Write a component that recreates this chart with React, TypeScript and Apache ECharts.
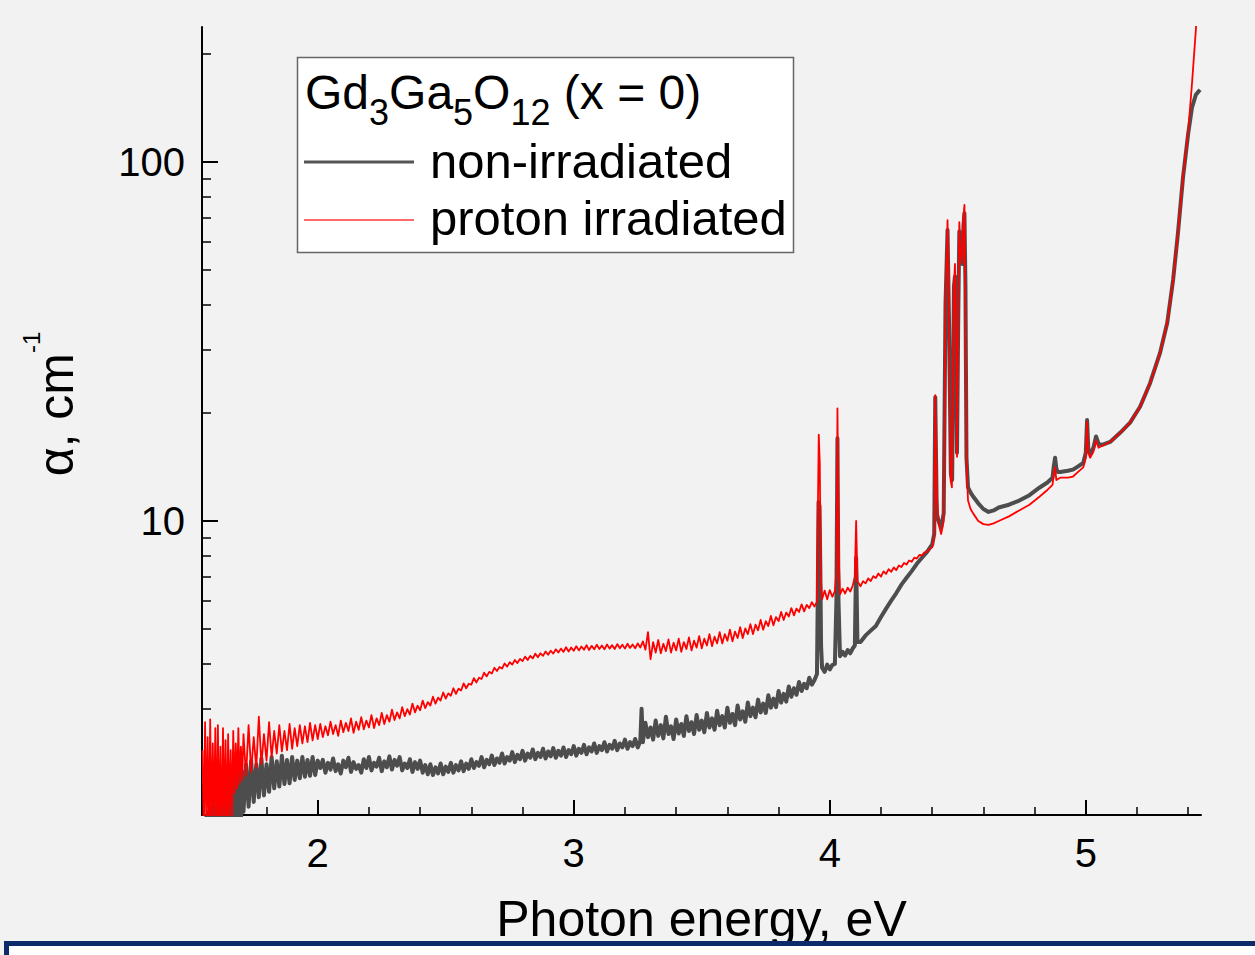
import React, { useEffect, useRef } from "react";
import * as echarts from "echarts";

const FONT = "'Liberation Sans', Arial, sans-serif";

const X_MIN = 1.548;
const X_MAX = 5.45;
const Y_MIN = 1.517;
const Y_MAX = 237.7;

const xTicksMajor = [2, 3, 4, 5];
const xTicksMinor = [1.6, 1.8, 2.2, 2.4, 2.6, 2.8, 3.2, 3.4, 3.6, 3.8, 4.2, 4.4, 4.6, 4.8, 5.2, 5.4];
const yTicksMajor = [10, 100];
const yTicksMinor = [2, 3, 4, 5, 6, 7, 8, 9, 20, 30, 40, 50, 60, 70, 80, 90, 200];

const xAxisTitle = "Photon energy, eV";
const seriesNames = ["non-irradiated", "proton irradiated"];

// non-irradiated (grey) – [photon energy eV, alpha cm^-1]
const grayLow: [number, number][] = [
  [1.550, 1.3], [1.555, 1.45], [1.560, 1.25], [1.565, 1.5], [1.570, 1.3], [1.575, 1.55], [1.580, 1.25], [1.585, 1.6],
  [1.590, 1.3], [1.595, 1.65], [1.600, 1.3], [1.605, 1.7], [1.610, 1.35], [1.615, 1.8], [1.620, 1.3], [1.625, 1.9],
  [1.630, 1.35], [1.635, 1.85], [1.640, 1.4], [1.645, 1.95], [1.650, 1.35], [1.655, 1.9], [1.660, 1.45], [1.665, 2.0],
  [1.670, 1.4], [1.675, 1.9], [1.680, 1.45], [1.685, 2.05], [1.690, 1.5], [1.695, 1.95], [1.700, 1.45], [1.705, 2.0],
  [1.710, 1.55], [1.720, 2.1], [1.730, 1.6], [1.740, 2.15], [1.750, 1.65], [1.760, 2.1], [1.770, 1.7], [1.780, 2.18],
  [1.790, 1.72], [1.800, 2.1], [1.810, 1.76], [1.820, 2.2], [1.830, 1.8], [1.840, 2.14], [1.850, 1.82], [1.860, 2.22],
  [1.870, 1.85], [1.880, 2.16], [1.890, 1.86], [1.900, 2.2], [1.910, 1.9], [1.920, 2.15], [1.930, 1.92], [1.940, 2.2],
  [1.950, 1.94], [1.960, 2.16], [1.970, 1.95], [1.980, 2.2], [1.990, 1.96], [2.000, 2.15],
];
const grayMid: [number, number][] = [
  [2.01, 2.05], [2.02, 2.16], [2.03, 1.99], [2.04, 2.12], [2.05, 2.03], [2.06, 2.18], [2.07, 2.01], [2.08, 2.1],
  [2.09, 1.98], [2.10, 2.15], [2.11, 2.06], [2.12, 2.19], [2.13, 2.0], [2.14, 2.13], [2.15, 2.04], [2.16, 2.09],
  [2.17, 1.99], [2.18, 2.17], [2.19, 2.05], [2.20, 2.2], [2.21, 2.02], [2.22, 2.12], [2.23, 2.07], [2.24, 2.19],
  [2.25, 2.01], [2.26, 2.14], [2.27, 2.06], [2.28, 2.21], [2.29, 2.03], [2.30, 2.16], [2.31, 2.08], [2.32, 2.2],
  [2.33, 2.02], [2.34, 2.11], [2.35, 2.05], [2.36, 2.17], [2.37, 2.0], [2.38, 2.13], [2.39, 2.04], [2.40, 2.15],
  [2.41, 1.99], [2.42, 2.09], [2.43, 1.97], [2.44, 2.1], [2.45, 1.96], [2.46, 2.06], [2.47, 1.98], [2.48, 2.11],
  [2.49, 1.97], [2.50, 2.07], [2.51, 2.0], [2.52, 2.12], [2.53, 1.99], [2.54, 2.09], [2.55, 2.02], [2.56, 2.14],
  [2.57, 2.01], [2.58, 2.11], [2.59, 2.04], [2.60, 2.17], [2.61, 2.05], [2.62, 2.13], [2.63, 2.08], [2.64, 2.2],
  [2.65, 2.06], [2.66, 2.16], [2.67, 2.1], [2.68, 2.22], [2.69, 2.09], [2.70, 2.18], [2.71, 2.12], [2.72, 2.25],
  [2.73, 2.11], [2.74, 2.2], [2.75, 2.15], [2.76, 2.27], [2.77, 2.13], [2.78, 2.23], [2.79, 2.17], [2.80, 2.29],
  [2.81, 2.15], [2.82, 2.25], [2.83, 2.19], [2.84, 2.31], [2.85, 2.17], [2.86, 2.26], [2.87, 2.2], [2.88, 2.32],
  [2.89, 2.18], [2.90, 2.28], [2.91, 2.21], [2.92, 2.33], [2.93, 2.19], [2.94, 2.29], [2.95, 2.22], [2.96, 2.34],
  [2.97, 2.2], [2.98, 2.3], [2.99, 2.24], [3.00, 2.36], [3.01, 2.22], [3.02, 2.32], [3.03, 2.26], [3.04, 2.38],
  [3.05, 2.24], [3.06, 2.34], [3.07, 2.28], [3.08, 2.4], [3.09, 2.26], [3.10, 2.36], [3.11, 2.3], [3.12, 2.42],
  [3.13, 2.28], [3.14, 2.38], [3.15, 2.32], [3.16, 2.44], [3.17, 2.3], [3.18, 2.4], [3.19, 2.34], [3.20, 2.46],
  [3.21, 2.32], [3.22, 2.42], [3.23, 2.36], [3.24, 2.47], [3.25, 2.34], [3.26, 2.44],
];
const grayUpper: [number, number][] = [
  [3.265, 3.0], [3.27, 2.42], [3.28, 2.74], [3.29, 2.5], [3.30, 2.66], [3.31, 2.46], [3.32, 2.78], [3.33, 2.52],
  [3.34, 2.7], [3.35, 2.48], [3.36, 2.85], [3.37, 2.55], [3.38, 2.68], [3.39, 2.47], [3.40, 2.8], [3.41, 2.56],
  [3.42, 2.72], [3.43, 2.52], [3.44, 2.86], [3.45, 2.6], [3.46, 2.75], [3.47, 2.55], [3.48, 2.88], [3.49, 2.62],
  [3.50, 2.78], [3.51, 2.58], [3.52, 2.92], [3.53, 2.66], [3.54, 2.82], [3.55, 2.62], [3.56, 2.96], [3.57, 2.7],
  [3.58, 2.86], [3.59, 2.66], [3.60, 3.02], [3.61, 2.74], [3.62, 2.9], [3.63, 2.7], [3.64, 3.06], [3.65, 2.8],
  [3.66, 2.95], [3.67, 2.76], [3.68, 3.12], [3.69, 2.86], [3.70, 3.02], [3.71, 2.84], [3.72, 3.18], [3.73, 2.93],
  [3.74, 3.1], [3.75, 2.92], [3.76, 3.27], [3.77, 3.02], [3.78, 3.2], [3.79, 3.03], [3.80, 3.36], [3.81, 3.12],
  [3.82, 3.3], [3.83, 3.14], [3.84, 3.46], [3.85, 3.24], [3.86, 3.42], [3.87, 3.28], [3.88, 3.56], [3.89, 3.36],
  [3.90, 3.52], [3.91, 3.42], [3.92, 3.66], [3.93, 3.5], [3.94, 3.6],
];
const grayPeaks: [number, number][] = [
  [3.950, 3.75], [3.953, 6.0], [3.956, 11.3], [3.960, 11.0], [3.963, 7.5], [3.966, 4.5], [3.970, 3.9], [3.980, 3.8],
  [3.990, 3.98], [4.000, 3.86], [4.010, 3.97], [4.020, 4.0], [4.026, 6.0], [4.030, 17.0], [4.034, 6.0], [4.040, 4.2],
  [4.050, 4.32], [4.060, 4.22], [4.070, 4.37], [4.080, 4.28], [4.090, 4.42], [4.098, 4.5], [4.103, 7.9], [4.108, 4.6],
  [4.120, 4.6], [4.140, 4.8], [4.160, 4.95], [4.180, 5.1], [4.200, 5.4], [4.220, 5.7], [4.240, 6.0], [4.260, 6.3],
  [4.280, 6.65], [4.300, 6.95], [4.320, 7.25], [4.340, 7.6], [4.360, 7.9], [4.380, 8.2], [4.400, 8.6], [4.408, 9.2],
  [4.412, 22.1], [4.418, 10.5], [4.425, 10.0], [4.435, 9.6], [4.445, 10.5], [4.452, 40], [4.460, 64.6], [4.466, 35],
  [4.473, 13.5], [4.478, 13.0], [4.485, 45], [4.489, 48], [4.494, 28], [4.497, 15.5], [4.502, 38], [4.506, 64],
  [4.512, 57], [4.517, 52], [4.522, 66], [4.526, 72], [4.530, 45], [4.534, 15.0], [4.540, 12.4], [4.550, 12.0],
  [4.560, 11.7], [4.580, 11.2], [4.600, 10.8], [4.620, 10.6], [4.640, 10.7], [4.660, 10.9], [4.700, 11.1], [4.740, 11.4],
  [4.780, 11.8], [4.820, 12.4], [4.850, 12.8], [4.870, 13.2], [4.875, 14.2], [4.880, 15.0], [4.885, 14.0], [4.890, 13.7],
  [4.900, 13.7], [4.930, 13.8], [4.950, 13.9], [4.970, 14.2], [4.990, 14.5], [5.000, 15.5], [5.005, 19.1], [5.010, 15.8],
  [5.017, 15.4], [5.030, 16.0], [5.040, 17.2], [5.050, 16.4], [5.064, 16.3], [5.095, 16.6], [5.134, 17.6], [5.173, 18.8],
  [5.212, 20.8], [5.251, 24.2], [5.290, 29.4], [5.318, 35.6], [5.341, 46.9], [5.360, 63.4], [5.380, 91], [5.400, 120],
  [5.415, 142], [5.430, 154], [5.446, 159],
];

// proton irradiated (red)
const redLow: [number, number][] = [
  [1.550, 2.3], [1.555, 1.3], [1.560, 2.75], [1.565, 1.4], [1.570, 2.5], [1.575, 1.3], [1.580, 2.8], [1.585, 1.35],
  [1.590, 2.4], [1.595, 1.45], [1.600, 2.65], [1.605, 1.3], [1.610, 2.7], [1.615, 1.4], [1.620, 2.35], [1.625, 1.3],
  [1.630, 2.65], [1.635, 1.45], [1.640, 2.45], [1.645, 1.35], [1.650, 2.55], [1.655, 1.5], [1.660, 2.3], [1.665, 1.45],
  [1.670, 2.6], [1.675, 1.75], [1.680, 2.4], [1.685, 1.8], [1.690, 2.65], [1.695, 1.85], [1.700, 2.35], [1.705, 1.9],
  [1.710, 2.55], [1.720, 1.95], [1.730, 2.7], [1.740, 2.0], [1.750, 2.5], [1.760, 2.05], [1.770, 2.85], [1.780, 2.1],
  [1.790, 2.55], [1.800, 2.15], [1.810, 2.75], [1.820, 2.2], [1.830, 2.6], [1.840, 2.25], [1.850, 2.7], [1.860, 2.28],
  [1.870, 2.6], [1.880, 2.3], [1.890, 2.72], [1.900, 2.32], [1.910, 2.65], [1.920, 2.36], [1.930, 2.7], [1.940, 2.4],
  [1.950, 2.68], [1.960, 2.42], [1.970, 2.74], [1.980, 2.45], [1.990, 2.7], [2.000, 2.47],
];
const redMid: [number, number][] = [
  [2.01, 2.72], [2.02, 2.5], [2.03, 2.68], [2.04, 2.53], [2.05, 2.76], [2.06, 2.55], [2.07, 2.7], [2.08, 2.52],
  [2.09, 2.78], [2.10, 2.58], [2.11, 2.74], [2.12, 2.6], [2.13, 2.82], [2.14, 2.57], [2.15, 2.76], [2.16, 2.62],
  [2.17, 2.84], [2.18, 2.63], [2.19, 2.78], [2.20, 2.66], [2.21, 2.88], [2.22, 2.65], [2.23, 2.82], [2.24, 2.7],
  [2.25, 2.92], [2.26, 2.72], [2.27, 2.88], [2.28, 2.76], [2.29, 2.98], [2.30, 2.79], [2.31, 2.93], [2.32, 2.82],
  [2.33, 3.03], [2.34, 2.86], [2.35, 2.99], [2.36, 2.89], [2.37, 3.1], [2.38, 2.93], [2.39, 3.06], [2.40, 2.97],
  [2.41, 3.16], [2.42, 3.01], [2.43, 3.13], [2.44, 3.06], [2.45, 3.24], [2.46, 3.1], [2.47, 3.22], [2.48, 3.16],
  [2.49, 3.33], [2.50, 3.2], [2.51, 3.31], [2.52, 3.26], [2.53, 3.42], [2.54, 3.3], [2.55, 3.41], [2.56, 3.37],
  [2.57, 3.53], [2.58, 3.42], [2.59, 3.52], [2.60, 3.5], [2.61, 3.65], [2.62, 3.55], [2.63, 3.66], [2.64, 3.63],
  [2.65, 3.78], [2.66, 3.69], [2.67, 3.8], [2.68, 3.76], [2.69, 3.9], [2.70, 3.82], [2.71, 3.92], [2.72, 3.88],
  [2.73, 4.01], [2.74, 3.93], [2.75, 4.04], [2.76, 3.98], [2.77, 4.1], [2.78, 4.02], [2.79, 4.13], [2.80, 4.07],
  [2.81, 4.19], [2.82, 4.1], [2.83, 4.21], [2.84, 4.14], [2.85, 4.27], [2.86, 4.17], [2.87, 4.28], [2.88, 4.21],
  [2.89, 4.33], [2.90, 4.24], [2.91, 4.35], [2.92, 4.27], [2.93, 4.39], [2.94, 4.3], [2.95, 4.41], [2.96, 4.32],
  [2.97, 4.45], [2.98, 4.33], [2.99, 4.44], [3.00, 4.35], [3.01, 4.48], [3.02, 4.36], [3.03, 4.47], [3.04, 4.38],
  [3.05, 4.51], [3.06, 4.37], [3.07, 4.49], [3.08, 4.39], [3.09, 4.52], [3.10, 4.4], [3.11, 4.5], [3.12, 4.39],
  [3.13, 4.53], [3.14, 4.41], [3.15, 4.51], [3.16, 4.4], [3.17, 4.54], [3.18, 4.42], [3.19, 4.52], [3.20, 4.41],
  [3.21, 4.55], [3.22, 4.43], [3.23, 4.53], [3.24, 4.42], [3.25, 4.56], [3.26, 4.44],
];
const redUpper: [number, number][] = [
  [3.27, 4.62], [3.28, 4.38], [3.29, 4.9], [3.30, 4.12], [3.31, 4.6], [3.32, 4.3], [3.33, 4.66], [3.34, 4.28],
  [3.35, 4.55], [3.36, 4.34], [3.37, 4.68], [3.38, 4.3], [3.39, 4.58], [3.40, 4.36], [3.41, 4.7], [3.42, 4.32],
  [3.43, 4.6], [3.44, 4.4], [3.45, 4.74], [3.46, 4.36], [3.47, 4.64], [3.48, 4.44], [3.49, 4.78], [3.50, 4.42],
  [3.51, 4.7], [3.52, 4.5], [3.53, 4.84], [3.54, 4.48], [3.55, 4.76], [3.56, 4.56], [3.57, 4.9], [3.58, 4.56],
  [3.59, 4.84], [3.60, 4.64], [3.61, 4.98], [3.62, 4.62], [3.63, 4.92], [3.64, 4.72], [3.65, 5.06], [3.66, 4.72],
  [3.67, 5.02], [3.68, 4.84], [3.69, 5.16], [3.70, 4.84], [3.71, 5.14], [3.72, 4.96], [3.73, 5.3], [3.74, 4.98],
  [3.75, 5.26], [3.76, 5.1], [3.77, 5.44], [3.78, 5.12], [3.79, 5.4], [3.80, 5.26], [3.81, 5.58], [3.82, 5.3],
  [3.83, 5.56], [3.84, 5.42], [3.85, 5.72], [3.86, 5.46], [3.87, 5.7], [3.88, 5.58], [3.89, 5.86], [3.90, 5.6],
  [3.91, 5.84], [3.92, 5.72], [3.93, 5.94], [3.94, 5.78],
];
const redPeaks: [number, number][] = [
  [3.950, 5.95], [3.954, 11.5], [3.957, 17.4], [3.961, 14.5], [3.965, 7.0], [3.970, 6.05], [3.980, 6.4], [3.990, 6.05],
  [4.000, 6.42], [4.010, 6.15], [4.020, 6.38], [4.026, 7.2], [4.030, 20.6], [4.035, 8.0], [4.040, 6.25], [4.050, 6.48],
  [4.060, 6.28], [4.070, 6.52], [4.080, 6.36], [4.090, 6.62], [4.098, 7.0], [4.103, 10.0], [4.108, 6.8], [4.120, 6.58],
  [4.130, 6.8], [4.140, 6.7], [4.150, 6.92], [4.160, 6.8], [4.170, 7.02], [4.180, 6.94], [4.190, 7.14], [4.200, 7.0],
  [4.210, 7.24], [4.220, 7.12], [4.230, 7.34], [4.240, 7.22], [4.250, 7.42], [4.260, 7.3], [4.270, 7.52], [4.280, 7.44],
  [4.290, 7.64], [4.300, 7.56], [4.310, 7.76], [4.320, 7.7], [4.330, 7.9], [4.340, 7.86], [4.350, 8.04], [4.360, 8.02],
  [4.370, 8.18], [4.380, 8.2], [4.390, 8.36], [4.400, 8.45], [4.408, 9.0], [4.412, 22.4],
  [4.418, 12.0], [4.425, 9.8], [4.435, 9.2], [4.445, 10.0], [4.452, 40], [4.460, 68.9], [4.465, 40], [4.472, 13.0],
  [4.477, 12.4], [4.485, 45], [4.489, 52], [4.494, 30], [4.497, 15.1], [4.502, 40], [4.506, 68], [4.512, 55],
  [4.517, 52], [4.522, 70], [4.526, 76], [4.530, 40], [4.534, 14.5], [4.540, 11.4], [4.550, 10.8], [4.560, 10.5],
  [4.580, 10.0], [4.600, 9.8], [4.620, 9.75], [4.640, 9.85], [4.660, 10.0], [4.700, 10.3], [4.740, 10.7], [4.780, 11.1],
  [4.820, 11.7], [4.850, 12.2], [4.870, 12.6], [4.875, 13.5], [4.880, 14.1], [4.885, 13.0], [4.900, 13.2], [4.930, 13.2],
  [4.950, 13.3], [4.970, 13.7], [4.990, 14.1], [5.000, 15.0], [5.005, 18.9], [5.010, 15.5], [5.017, 15.0], [5.030, 15.6],
  [5.040, 16.8], [5.050, 16.0], [5.064, 16.2], [5.095, 16.6], [5.134, 17.6], [5.173, 18.8], [5.212, 20.8], [5.251, 24.2],
  [5.290, 29.4], [5.318, 35.6], [5.341, 46.9], [5.360, 63.4], [5.380, 91], [5.400, 122], [5.415, 166], [5.432, 245],
];

const grayData = [...grayLow, ...grayMid, ...grayUpper, ...grayPeaks];
const redData = [...redLow, ...redMid, ...redUpper, ...redPeaks];

export default function App() {
  const ref = useRef<HTMLDivElement>(null);

  useEffect(() => {
    if (!ref.current) return;
    const chart = echarts.init(ref.current, undefined, { renderer: "svg" });

    const axisLineStyle = { color: "#000", width: 2 };

    chart.setOption({
      animation: false,
      backgroundColor: "#f2f2f2",
      grid: { left: 202, top: 27, right: 54, bottom: 140, outerBoundsMode: "none" },
      xAxis: [
        {
          type: "value",
          min: X_MIN,
          max: X_MAX,
          position: "bottom",
          axisLine: { show: true, onZero: false, lineStyle: axisLineStyle },
          axisTick: { show: true, inside: true, length: 15, customValues: xTicksMajor, lineStyle: axisLineStyle },
          axisLabel: { show: true, customValues: xTicksMajor, fontSize: 40, color: "#000", fontFamily: FONT, margin: 18 },
          splitLine: { show: false },
          name: xAxisTitle,
          nameLocation: "middle",
          nameGap: 79,
          nameTextStyle: { fontSize: 50, color: "#000", fontFamily: FONT },
        },
        {
          type: "value",
          min: X_MIN,
          max: X_MAX,
          position: "bottom",
          axisLine: { show: false, onZero: false },
          axisTick: { show: true, inside: true, length: 8, customValues: xTicksMinor, lineStyle: { color: "#000", width: 1.5 } },
          axisLabel: { show: false },
          splitLine: { show: false },
        },
      ],
      yAxis: [
        {
          type: "log",
          logBase: 10,
          min: Y_MIN,
          max: Y_MAX,
          position: "left",
          axisLine: { show: true, onZero: false, lineStyle: axisLineStyle },
          axisTick: { show: true, inside: true, length: 16, customValues: yTicksMajor, lineStyle: axisLineStyle },
          axisLabel: { show: true, customValues: yTicksMajor, fontSize: 40, color: "#000", fontFamily: FONT, margin: 17 },
          splitLine: { show: false },
          minorTick: { show: false },
        },
        {
          type: "log",
          logBase: 10,
          min: Y_MIN,
          max: Y_MAX,
          position: "left",
          axisLine: { show: false, onZero: false },
          axisTick: { show: true, inside: true, length: 9, customValues: yTicksMinor, lineStyle: { color: "#000", width: 1.5 } },
          axisLabel: { show: false },
          splitLine: { show: false },
        },
      ],
      series: [
        {
          type: "line",
          name: seriesNames[0],
          data: grayData,
          xAxisIndex: 0,
          yAxisIndex: 0,
          showSymbol: false,
          symbol: "none",
          silent: true,
          clip: true,
          z: 2,
          lineStyle: { color: "#4d4d4d", width: 4, join: "round" },
          itemStyle: { color: "#4d4d4d" },
        },
        {
          type: "line",
          name: seriesNames[1],
          data: redData,
          xAxisIndex: 0,
          yAxisIndex: 0,
          showSymbol: false,
          symbol: "none",
          silent: true,
          clip: true,
          z: 3,
          lineStyle: { color: "#ff0000", width: 1.8, join: "round" },
          itemStyle: { color: "#ff0000" },
        },
      ],
      graphic: [
        {
          type: "rect",
          z: 10,
          shape: { x: 297.5, y: 57.5, width: 496, height: 195 },
          style: { fill: "#ffffff", stroke: "#666666", lineWidth: 1.5 },
        },
        {
          type: "text",
          z: 11,
          x: 305,
          y: 92,
          style: {
            text: "{m|Gd}{s|3}{m|Ga}{s|5}{m|O}{s|12}{m| (x = 0)}",
            align: "left",
            verticalAlign: "middle",
            textAlign: "left",
            textVerticalAlign: "middle",
            fill: "#000",
            rich: {
              m: { fontSize: 48, fontFamily: FONT, fill: "#000", lineHeight: 48, verticalAlign: "top" },
              s: { fontSize: 36, fontFamily: FONT, fill: "#000", lineHeight: 36, verticalAlign: "top", padding: [26, 0, 0, 0] },
            },
          },
        },
        {
          type: "line",
          z: 11,
          shape: { x1: 304, y1: 162, x2: 414, y2: 162 },
          style: { stroke: "#555555", lineWidth: 3 },
        },
        {
          type: "text",
          z: 11,
          x: 430,
          y: 161,
          style: {
            text: seriesNames[0],
            fontSize: 49,
            fontFamily: FONT,
            fill: "#000",
            align: "left",
            verticalAlign: "middle",
            textAlign: "left",
            textVerticalAlign: "middle",
          },
        },
        {
          type: "line",
          z: 11,
          shape: { x1: 304, y1: 220, x2: 414, y2: 220 },
          style: { stroke: "#ff3a3a", lineWidth: 1.5 },
        },
        {
          type: "text",
          z: 11,
          x: 430,
          y: 218,
          style: {
            text: seriesNames[1],
            fontSize: 49,
            fontFamily: FONT,
            fill: "#000",
            align: "left",
            verticalAlign: "middle",
            textAlign: "left",
            textVerticalAlign: "middle",
          },
        },
        {
          type: "text",
          z: 11,
          x: 44,
          y: 404,
          rotation: Math.PI / 2,
          style: {
            text: "{a|α, cm}{b|-1}",
            align: "center",
            verticalAlign: "middle",
            textAlign: "center",
            textVerticalAlign: "middle",
            fill: "#000",
            rich: {
              a: { fontSize: 50, fontFamily: FONT, fill: "#000", lineHeight: 50, verticalAlign: "top", padding: [12, 0, 0, 0] },
              b: { fontSize: 24, fontFamily: FONT, fill: "#000", lineHeight: 24, verticalAlign: "top" },
            },
          },
        },
        {
          type: "rect",
          z: 100,
          shape: { x: 6.5, y: 943.5, width: 1300, height: 100 },
          style: { fill: "#ffffff", stroke: "#0d2b6b", lineWidth: 5 },
        },
      ],
    });

    return () => {
      chart.dispose();
    };
  }, []);

  return (
    <div
      ref={ref}
      style={{ position: "fixed", left: 0, top: 0, width: 1255, height: 955 }}
    />
  );
}
